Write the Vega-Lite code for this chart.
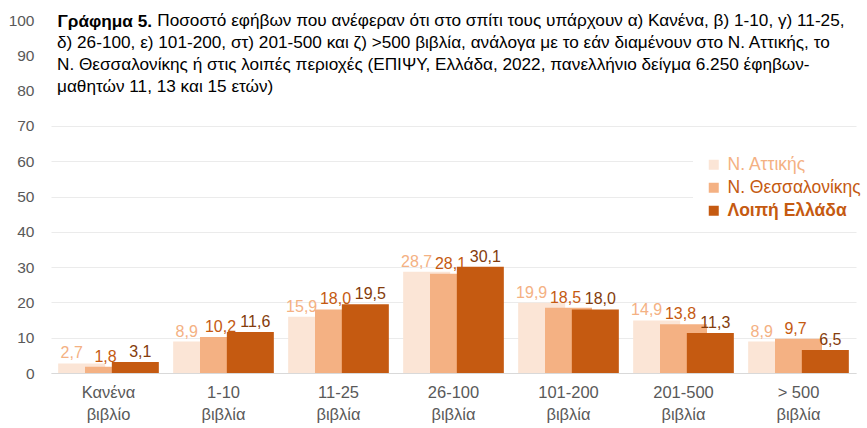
{
  "$schema": "https://vega.github.io/schema/vega-lite/v6.json",
  "width": 805,
  "height": 353,
  "autosize": "none",
  "padding": {"left": 51, "top": 20, "right": 11, "bottom": 55},
  "background": "white",
  "config": {
    "view": {"stroke": null},
    "font": "Liberation Sans",
    "locale": {"number": {"decimal": ",", "thousands": ".", "grouping": [3], "currency": ["", "€"]}}
  },
  "title": {
    "text": [
      "\u200b\u00a0\u00a0\u00a0\u00a0\u00a0\u00a0\u00a0\u00a0\u00a0\u00a0\u00a0\u00a0\u00a0\u00a0\u00a0\u00a0\u00a0\u00a0\u00a0\u00a0\u00a0Ποσοστό εφήβων που ανέφεραν ότι στο σπίτι τους υπάρχουν α) Κανένα, β) 1-10, γ) 11-25,",
      "δ) 26-100, ε) 101-200,  στ) 201-500 και ζ) >500 βιβλία, ανάλογα με το εάν διαμένουν στο Ν. Αττικής, το",
      "Ν. Θεσσαλονίκης ή στις λοιπές περιοχές (ΕΠΙΨΥ, Ελλάδα, 2022, πανελλήνιο δείγμα 6.250 έφηβων-",
      "μαθητών 11, 13 και 15 ετών)"
    ],
    "anchor": "start",
    "frame": "group",
    "orient": "top",
    "baseline": "top",
    "offset": -83,
    "dx": 6,
    "font": "Liberation Sans",
    "fontSize": 17.2,
    "fontWeight": "normal",
    "color": "#000000",
    "lineHeight": 22
  },
  "data": {
    "values": [
      {"cat": "Κανένα βιβλίο", "series": "Ν. Αττικής", "value": 2.7},
      {"cat": "Κανένα βιβλίο", "series": "Ν. Θεσσαλονίκης", "value": 1.8},
      {"cat": "Κανένα βιβλίο", "series": "Λοιπή Ελλάδα", "value": 3.1},
      {"cat": "1-10 βιβλία", "series": "Ν. Αττικής", "value": 8.9},
      {"cat": "1-10 βιβλία", "series": "Ν. Θεσσαλονίκης", "value": 10.2},
      {"cat": "1-10 βιβλία", "series": "Λοιπή Ελλάδα", "value": 11.6},
      {"cat": "11-25 βιβλία", "series": "Ν. Αττικής", "value": 15.9},
      {"cat": "11-25 βιβλία", "series": "Ν. Θεσσαλονίκης", "value": 18.0},
      {"cat": "11-25 βιβλία", "series": "Λοιπή Ελλάδα", "value": 19.5},
      {"cat": "26-100 βιβλία", "series": "Ν. Αττικής", "value": 28.7},
      {"cat": "26-100 βιβλία", "series": "Ν. Θεσσαλονίκης", "value": 28.1},
      {"cat": "26-100 βιβλία", "series": "Λοιπή Ελλάδα", "value": 30.1},
      {"cat": "101-200 βιβλία", "series": "Ν. Αττικής", "value": 19.9},
      {"cat": "101-200 βιβλία", "series": "Ν. Θεσσαλονίκης", "value": 18.5},
      {"cat": "101-200 βιβλία", "series": "Λοιπή Ελλάδα", "value": 18.0},
      {"cat": "201-500 βιβλία", "series": "Ν. Αττικής", "value": 14.9},
      {"cat": "201-500 βιβλία", "series": "Ν. Θεσσαλονίκης", "value": 13.8},
      {"cat": "201-500 βιβλία", "series": "Λοιπή Ελλάδα", "value": 11.3},
      {"cat": "> 500 βιβλία", "series": "Ν. Αττικής", "value": 8.9},
      {"cat": "> 500 βιβλία", "series": "Ν. Θεσσαλονίκης", "value": 9.7},
      {"cat": "> 500 βιβλία", "series": "Λοιπή Ελλάδα", "value": 6.5}
    ]
  },
  "encoding": {
    "x": {
      "field": "cat",
      "type": "nominal",
      "sort": null,
      "scale": {"paddingInner": 0.3, "paddingOuter": 0.15},
      "axis": {
        "title": null,
        "labelAngle": 0,
        "domain": true,
        "domainColor": "#D9D9D9",
        "domainWidth": 1,
        "ticks": false,
        "labelFontSize": 16.5,
        "labelColor": "#595959",
        "labelPadding": 11,
        "labelLineHeight": 22,
        "labelBaseline": "top",
        "labelExpr": "[slice(datum.label, 0, lastindexof(datum.label, ' ')), slice(datum.label, lastindexof(datum.label, ' ') + 1)]"
      }
    },
    "xOffset": {
      "field": "series",
      "type": "nominal",
      "sort": ["Ν. Αττικής", "Ν. Θεσσαλονίκης", "Λοιπή Ελλάδα"],
      "scale": {"paddingInner": 0, "paddingOuter": 0}
    },
    "y": {
      "field": "value",
      "type": "quantitative",
      "scale": {"domain": [0, 100]},
      "axis": {
        "values": [0, 10, 20, 30, 40, 50, 60, 70, 80, 90, 100],
        "domain": false,
        "ticks": false,
        "grid": true,
        "gridColor": {"condition": {"test": "datum.value > 70", "value": "transparent"}, "value": "#EBEBEB"},
        "gridWidth": 1,
        "labelColor": "#595959",
        "labelFontSize": 15.5,
        "labelPadding": 17,
        "title": "Γράφημα 5.",
        "titleAngle": 0,
        "titleAlign": "left",
        "titleBaseline": "top",
        "titleX": 6,
        "titleY": -8,
        "titleFont": "Liberation Sans",
        "titleFontSize": 17.2,
        "titleFontWeight": "bold",
        "titleColor": "#000000"
      }
    }
  },
  "layer": [
    {
      "mark": {"type": "bar", "width": 47},
      "encoding": {
        "color": {
          "field": "series",
          "type": "nominal",
          "sort": ["Ν. Αττικής", "Ν. Θεσσαλονίκης", "Λοιπή Ελλάδα"],
          "scale": {"domain": ["Ν. Αττικής", "Ν. Θεσσαλονίκης", "Λοιπή Ελλάδα"], "range": ["#FBE5D6", "#F4B183", "#C55A11"]},
          "legend": {
            "title": null,
            "orient": "none",
            "legendX": 642,
            "legendY": 124,
            "padding": 12,
            "fillColor": "white",
            "symbolType": "square",
            "symbolSize": 100,
            "symbolStrokeWidth": 0,
            "symbolOpacity": 1,
            "labelFontSize": 17.5,
            "labelOffset": 5,
            "rowPadding": 4,
            "labelLimit": 300,
            "encode": {
              "labels": {
                "update": {
                  "fill": {"signal": "datum.value === 'Ν. Αττικής' ? '#F4B183' : '#C55A11'"},
                  "fontWeight": {"signal": "datum.value === 'Λοιπή Ελλάδα' ? 'bold' : 'normal'"}
                }
              }
            }
          }
        }
      }
    },
    {
      "transform": [{"filter": "datum.series === 'Ν. Αττικής'"}],
      "mark": {"type": "text", "baseline": "alphabetic", "dy": -5, "dx": -10, "fontSize": 16, "color": "#F4B183"},
      "encoding": {
        "text": {"field": "value", "type": "quantitative", "format": ".1f"}
      }
    },
    {
      "transform": [{"filter": "datum.series === 'Ν. Θεσσαλονίκης'"}],
      "mark": {"type": "text", "baseline": "alphabetic", "dy": -5, "dx": -3, "fontSize": 16, "color": "#C55A11"},
      "encoding": {
        "text": {"field": "value", "type": "quantitative", "format": ".1f"}
      }
    },
    {
      "transform": [{"filter": "datum.series === 'Λοιπή Ελλάδα'"}],
      "mark": {"type": "text", "baseline": "alphabetic", "dy": -5, "dx": 5, "fontSize": 16, "color": "#843C0C"},
      "encoding": {
        "text": {"field": "value", "type": "quantitative", "format": ".1f"}
      }
    }
  ]
}
